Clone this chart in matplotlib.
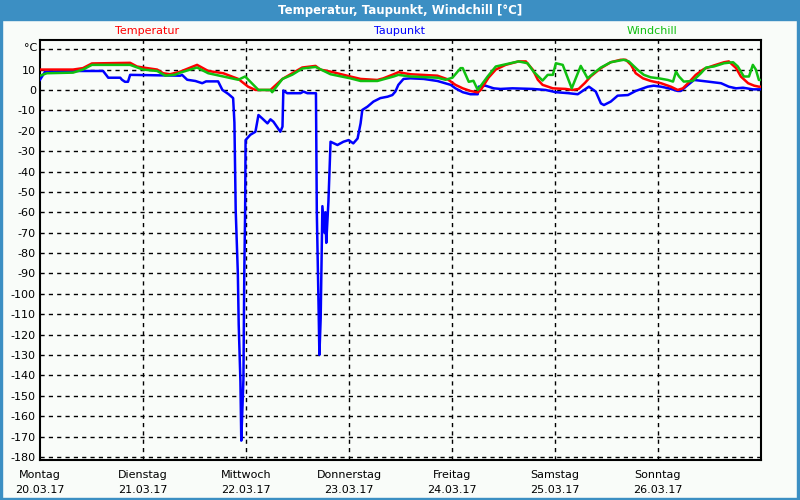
import matplotlib
matplotlib.use("Agg")
import matplotlib.pyplot as plt
from matplotlib.patches import Rectangle

# hours since Monday 20.03.17 00:00
temp_h = [0, 7.7, 10, 12.1, 21, 22.6, 24, 27.3, 28.7, 30.3, 32.7, 36.6, 39.2, 42.7, 46.2,
          48.5, 50.2, 53.7, 56.5, 58.8, 61.1, 64.2, 65.3, 67.7, 72.3, 74.7, 78.6, 80, 82.4,
          83.5, 86.3, 92.6, 95, 96.8, 98.5, 100.3, 102, 102.7, 104.5, 106.2, 108.5, 111.5,
          113.2, 114.8, 116, 117.1, 119.5, 122.5, 124.1, 125.5, 127, 128.3, 130.7, 133,
          135.3, 136.5, 137.7, 138.8, 140.5, 142.3, 144.7, 147, 148.6, 149.8, 151, 152.8,
          154.7, 157, 159.4, 160.5, 162.2, 163.3, 165, 166.4, 167.5, 168]
temp_v = [10, 10, 10.7, 13, 13.3, 11.5, 11, 10, 8.2, 7.7, 9, 12.3, 9.3, 8.2, 5.4,
          1.6, 0, 0, 5.4, 8.2, 11, 11.8, 10, 9, 6.6, 5.4, 4.9, 5.7, 7.7,
          8.7, 7.7, 7, 5.2, 2.5, 0.8, -0.5, -1.2, 0, 6, 10, 12.3, 14,
          14, 10, 5, 2.5, 0.8, 0.5, 0, 0.5, 3.5, 6.6, 10.7, 13.6,
          14.8, 14.8, 12.3, 8.2, 5.7, 4.4, 3.3, 1.6, 0, 0.8, 3.3, 7.4,
          10.3, 12, 13.6, 14, 10.7, 6.6, 3.3, 2.1, 1.6, 1.6]

wind_h = [0, 1.6, 7.7, 10, 12.1, 21, 24, 27.3, 29.2, 31.5, 32.7, 36.6, 39.2, 42.7, 46.2,
          47.8, 50.9, 53.7, 54.1, 56.5, 58.8, 61.1, 64.2, 67.7, 72.3, 74.7, 78.6, 82.4,
          83.5, 86.3, 92.6, 94.5, 96.1, 98, 98.5, 99.9, 101, 102, 104.3, 106.2, 111.5,
          113.6, 115, 117.1, 118.3, 119.5, 120.2, 121.8, 123.9, 126, 127.6, 129, 130.7,
          133, 136, 137.2, 139.3, 140.7, 142.3, 144.2, 146.3, 147.5, 148.2, 148.9, 150,
          152.1, 154, 155.2, 157, 159.4, 161.5, 162.6, 164, 165.2, 166.1, 166.8, 167.5, 168]
wind_v = [7, 8.2, 8.5, 10, 12.3, 12.3, 10, 9.3, 7, 7.5, 8.5, 11, 8.2, 6.6, 5,
          6.6, 0, 0, -1.1, 5.4, 7.5, 10.5, 11.3, 7.7, 5.7, 4.4, 4.4, 6.6,
          7.4, 6.6, 6, 5, 6, 10.7, 10.7, 4, 4.5, 0, 6.6, 11.5, 14,
          13.1, 9, 4.6, 7.4, 7.4, 13.1, 12.3, 0.8, 11.8, 5.7, 8.2, 11,
          13.6, 14.8, 14, 9.8, 7.4, 6.2, 5.7, 4.9, 4.1, 9, 6.6, 4.1,
          4.4, 8.2, 11, 11.5, 13.1, 13.6, 11.5, 6.6, 6.6, 12.3, 10, 4.9, 4.9]

dew_h = [0, 1.2, 7.7, 14.7, 15.4, 15.9, 18.7, 19.1, 19.8, 20.5, 21, 32.7, 33.1, 34.3,
         36.2, 37.8, 38.7, 41.5, 42.5, 43.9, 45, 45.3, 45.6, 46.1, 46.3, 46.7, 46.9,
         47.1, 47.4, 47.6, 47.8, 47.9, 49, 50.2, 50.9, 51.8, 53, 53.7, 54.4, 56, 56.5,
         56.7, 57.6, 60.7, 61.4, 62.3, 64.3, 64.5, 64.9, 65.1, 65.4, 65.8, 66.3, 66.5,
         66.7, 67.2, 67.7, 69.3, 70.7, 71.9, 73, 74, 74.7, 75.1, 76.3, 77.7, 79.3, 81,
         82.1, 82.8, 83.5, 84.7, 86.3, 89.4, 92.6, 95.7, 96.8, 98.5, 100.3, 102, 102.2,
         103.8, 105.7, 107.3, 110.1, 114.8, 117.8, 120.2, 123.2, 125.3, 127.9, 129.5,
         130.7, 131.4, 133, 134.6, 137, 138.8, 141.6, 143, 144.7, 146.5, 148.6, 149.3,
         151, 152.4, 155.6, 158.7, 160.5, 162.2, 163.8, 166.1, 168]
dew_v = [5, 9, 9.3, 9.3, 7.4, 6, 6, 5, 4, 4, 7.4, 7, 7.4, 5,
         4.4, 3.3, 4.2, 4.2, 0, -2, -4, -16, -59, -90, -115, -143, -172,
         -160, -142, -90, -59, -24.6, -22, -20.5, -12.3, -14, -16.4, -14.4, -15.6, -20.5, -18,
         -0.3, -1.6, -1.6, -0.8, -1.6, -1.6, -60, -105, -130, -112, -57, -70, -60,
         -75, -55, -25.4, -27, -25.4, -24.6, -26.2, -23.8, -16.4, -9.8, -8.2, -5.7, -4, -3.3,
         -2.5, -0.8, 2.5, 5.4, 5.7, 5.4, 4.4, 2.5, 0.8, -1.1, -2.1, -2.1, 1.6,
         2.1, 0.8, 0.5, 0.8, 0.5, 0, -1.1, -1.6, -2.1, 1.6, -0.8,
         -6.6, -7.4, -5.7, -2.8, -2.5, -0.5, 1.6, 2.1, 1.6, 0.8, -0.5, -0.5,
         2.5, 4.9, 4.1, 3.3, 1.6, 0.8, 1.1, 0.3, 0.3]

days = ['Montag', 'Dienstag', 'Mittwoch', 'Donnerstag', 'Freitag', 'Samstag', 'Sonntag']
dates = ['20.03.17', '21.03.17', '22.03.17', '23.03.17', '24.03.17', '25.03.17', '26.03.17']
yticks = list(range(-180, 20, 10))

bg = '#f9fcf9'
frame = '#3c8fc3'

plt.rcParams['font.family'] = 'DejaVu Sans'
fig = plt.figure(figsize=(8, 5), dpi=100, facecolor=bg)

# window frame and title bar
fig.patches.append(Rectangle((0, 0.96), 1, 0.04, transform=fig.transFigure, color=frame, zorder=0))
fig.patches.append(Rectangle((0, 0), 0.003, 1, transform=fig.transFigure, color=frame, zorder=0))
fig.patches.append(Rectangle((0.996, 0), 0.004, 1, transform=fig.transFigure, color=frame, zorder=0))
fig.patches.append(Rectangle((0, 0), 1, 0.005, transform=fig.transFigure, color=frame, zorder=0))
fig.text(0.5, 0.979, 'Temperatur, Taupunkt, Windchill [°C]', color='white', fontweight='bold',
         fontsize=8.5, ha='center', va='center')

fig.text(147 / 800, 1 - 31 / 500, 'Temperatur', color='#ff0000', fontsize=8, ha='center', va='center')
fig.text(399 / 800, 1 - 31 / 500, 'Taupunkt', color='#0000ff', fontsize=8, ha='center', va='center')
fig.text(652 / 800, 1 - 31 / 500, 'Windchill', color='#10c010', fontsize=8, ha='center', va='center')

ax = fig.add_axes([40 / 800, 40 / 500, 721 / 800, 420 / 500])
ax.set_facecolor(bg)

ax.plot(dew_h, dew_v, color='#0000ff', lw=1.8, zorder=3)
ax.plot(temp_h, temp_v, color='#ff0000', lw=1.8, zorder=4)
ax.plot(wind_h, wind_v, color='#10c010', lw=1.8, zorder=5)

ax.set_xlim(0, 168)
ax.set_ylim(-181.5, 24.5)

for v in yticks + [20]:
    ax.axhline(v, color='black', lw=1, ls=(0, (3, 3)), zorder=1)
for d in range(1, 7):
    ax.axvline(d * 24, color='black', lw=1, ls=(0, (3, 3)), zorder=1)

ax.set_yticks(yticks)
ax.set_yticklabels([str(t) for t in yticks], fontsize=8)
ax.tick_params(axis='y', length=0, pad=3)
ax.set_xticks([])
ax.text(-0.004, 20.8, '°C', transform=ax.get_yaxis_transform(), ha='right', va='center', fontsize=8)

for i in range(len(days)):
    ax.text(i * 24, -0.036, days[i], transform=ax.get_xaxis_transform(), ha='center', va='center', fontsize=8)
    ax.text(i * 24, -0.071, dates[i], transform=ax.get_xaxis_transform(), ha='center', va='center', fontsize=8)

for s in ax.spines.values():
    s.set_linewidth(1.5)

fig.savefig('out.png', dpi=100, facecolor=bg)
